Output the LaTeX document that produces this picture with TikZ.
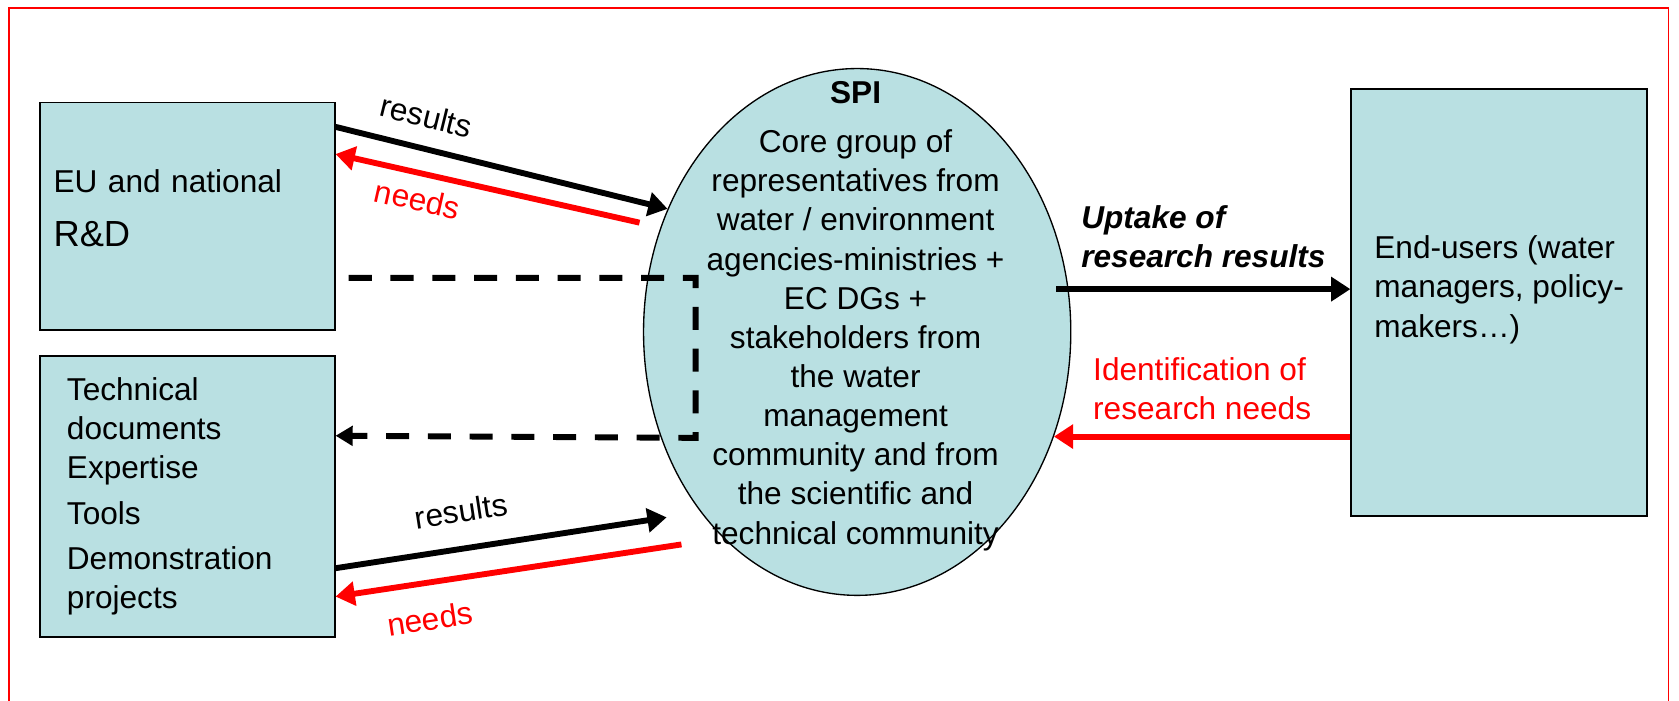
\documentclass[tikz,border=0pt]{standalone}
\usepackage{fontspec}
\setmainfont{Liberation Sans}
\usetikzlibrary{arrows.meta,calc,shapes.geometric}

\definecolor{boxblue}{RGB}{185,224,226}
\definecolor{pptred}{RGB}{255,0,0}
\newcommand{\diagfont}{\fontsize{16.8}{20.8}\selectfont}

\tikzset{
  block/.style={shape=rectangle,draw=black,line width=0.35mm,fill=boxblue},
  flow/.style={line width=1.1mm,-{Triangle[length=3.6mm,width=4.4mm]}},
  back/.style={flow,pptred},
  link/.style={line width=1.1mm,dash pattern=on 4.3mm off 3.5mm,-{Triangle[length=3.2mm,width=3.6mm]}},
  tag/.style={inner sep=0pt,sloped},
}

\begin{document}
\begin{tikzpicture}[x=0.2mm,y=-0.2mm,font=\diagfont]
        \useasboundingbox (0,0) rectangle (1568,654);
        \draw[pptred,line width=0.3mm] (8.5,660) -- (8.5,7.5) -- (1558,7.5) -- (1558,660);

        \node[block,minimum width=55mm,minimum height=42.5mm,text width=50mm,inner xsep=2.5mm,align=left] (rd) at (175, 202) {EU and national\\[2.8mm]{\fontsize{19.3}{23}\selectfont R\&D}\rule[-3mm]{0pt}{0pt}};
        \node[block,minimum width=55mm,minimum height=52.4mm,text width=45mm,inner xsep=5mm,align=left] (tk) at (175, 463.5) {Technical\\documents\\Expertise\\[1.2mm]Tools\\[1.2mm]Demonstration\\projects};
        \node[block,minimum width=55.2mm,minimum height=79.8mm,align=left] (eu) at (1400, 282.5) {End-users (water\\managers, policy-\\makers…)\rule[-6mm]{0pt}{0pt}};
        \node[shape=ellipse,draw=black,line width=0.25mm,fill=boxblue,minimum width=79.8mm,minimum height=98.4mm,inner sep=0pt] (spi) at (800.5, 310) {};
        \node[anchor=north,align=center,inner sep=0pt] (core) at (799, 76) {\textbf{SPI}\\[1.8mm]Core group of\\representatives from\\water / environment\\agencies-ministries +\\EC DGs +\\stakeholders from\\the water\\management\\community and from\\the scientific and\\technical community};

	\draw[flow] ($(rd.north east)+(0,23.6)$) -- node[tag,pos=0.25,above=3.3mm]{results} (spi.147);
	\draw[back,shorten <=4mm] (spi.152) -- node[tag,pos=0.73,below=2.2mm]{needs} ($(rd.north east)+(0,49)$);
	\draw[link] ($(rd.south east)+(12.3,-49.6)$) -- ++(324,0) -- ++(0,149.4) -- ($(tk.north east)+(0,75.3)$);
	\draw[flow,shorten >=6.4mm] ($(tk.north east)+(0,199)$) -- node[tag,pos=0.36,above=4.3mm]{results} (spi.229);
	\draw[back,shorten <=7.9mm] (spi.237) -- node[tag,pos=0.77,below=4mm]{needs} ($(tk.north east)+(0,225.5)$);
	\draw[flow] ($(spi.east)+(-14,-40)$) -- node[above=3.4mm,inner sep=0pt,align=left,font=\diagfont\bfseries\itshape]{Uptake of\\research results} ($(eu.west)+(0,-12.5)$);
	\draw[back] (eu.west |- spi.-28) -- node[above=2.6mm,inner sep=0pt,align=left]{Identification of\\research needs} (spi.-28);
\end{tikzpicture}
\end{document}
